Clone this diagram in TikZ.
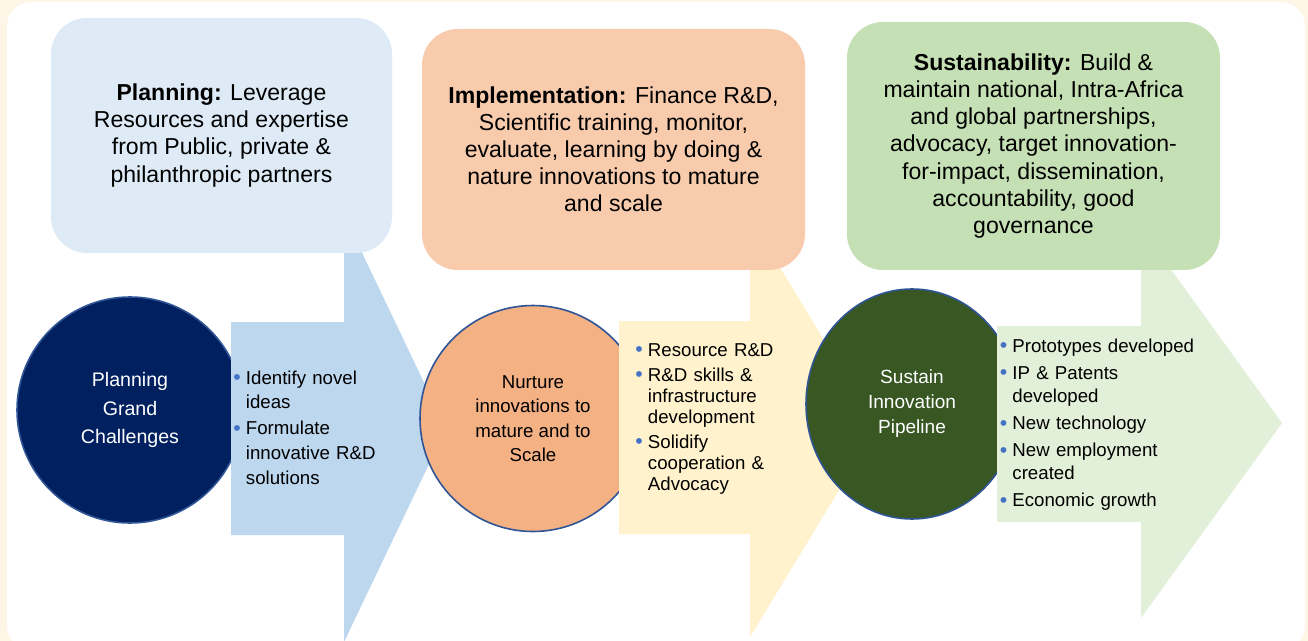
\documentclass[tikz,border=0pt]{standalone}
\usepackage{fontspec}
\setmainfont{Liberation Sans}
\usetikzlibrary{shapes.geometric}

\definecolor{cream}{HTML}{FDF6E7}
\definecolor{boxblue}{HTML}{DEEBF7}
\definecolor{boxpeach}{HTML}{F8CBAD}
\definecolor{boxgreen}{HTML}{C5E0B4}
\definecolor{arrblue}{HTML}{BDD7EE}
\definecolor{arryellow}{HTML}{FFF2CC}
\definecolor{arrgreen}{HTML}{E2F0D9}
\definecolor{navy}{HTML}{002060}
\definecolor{hubpeach}{HTML}{F4B183}
\definecolor{hubgreen}{HTML}{385723}
\definecolor{rimblue}{HTML}{2F5597}
\definecolor{dotblue}{HTML}{4472C4}

% bullet item with hanging indent
\newcommand{\bul}{\par\noindent\hangindent=9.5pt\hangafter=1\makebox[9.5pt][l]{\textcolor{dotblue}{\fontsize{16}{16}\selectfont\raisebox{-0.4pt}{•}}}}

\tikzset{
  stagebox/.style={rounded corners=27pt, inner sep=0pt, align=center, font=\fontsize{17.3}{20.3}\selectfont},
  hub/.style={ellipse, draw=rimblue, line width=1.2pt, inner sep=0pt, align=center},
  bullets/.style={anchor=north west, inner sep=0pt, text width=#1, align=left}
}

\begin{document}
\begin{tikzpicture}[x=0.75pt, y=-0.75pt]
        \useasboundingbox (0,0) rectangle (1308,641);
        % Background
        \fill[cream] (0,0) rectangle (1308,641);
        \fill[white, rounded corners=18pt] (7,2) rectangle (1305,650);

        % Hubs and arrows, left to right
        \node (c1) at (130,410) [hub, fill=navy, text=white, minimum width=169.5pt, minimum height=169.5pt, font=\fontsize{14.7}{21.4}\selectfont] {Planning\\Grand\\Challenges};
        \fill[arrblue] (231,322) -- (344,322) -- (344,215) -- (446,428.5) -- (344,642) -- (344,535) -- (231,535) -- cycle;
        \node (c2) at (533,418.5) [hub, fill=hubpeach, minimum width=169.5pt, minimum height=169.5pt, font=\fontsize{14}{18.4}\selectfont] {Nurture\\innovations to\\mature and to\\Scale};
        \fill[arryellow] (619,321) -- (750,321) -- (750,218) -- (877,427.5) -- (750,637) -- (750,534) -- (619,534) -- cycle;
        \node (c3) at (912,404) [hub, fill=hubgreen, text=white, minimum width=159pt, minimum height=172.5pt, font=\fontsize{14.3}{18.75}\selectfont] {Sustain\\Innovation\\Pipeline};
        \fill[arrgreen] (997,326) -- (1141,326) -- (1141,228) -- (1282,423) -- (1141,618) -- (1141,522) -- (997,522) -- cycle;

        % Bullet lists
        \node (l1) at (233,358) [bullets=150pt, font=\fontsize{14}{18.5}\selectfont] {\setlength{\parskip}{1pt}%
          \bul Identify novel\newline ideas
          \bul Formulate\newline innovative R\&D\newline solutions\par};
        \node (l2) at (635,331) [bullets=150pt, font=\fontsize{14}{15.75}\selectfont] {\setlength{\parskip}{3pt}%
          \bul Resource R\&D
          \bul R\&D skills \&\newline infrastructure\newline development
          \bul Solidify\newline cooperation \&\newline Advocacy\par};
        \node (l3) at (999.5,325) [bullets=170pt, font=\fontsize{14}{17.6}\selectfont] {\setlength{\parskip}{2.6pt}%
          \bul Prototypes developed
          \bul IP \& Patents\newline developed
          \bul New technology
          \bul New employment\newline created
          \bul Economic growth\par};

        % Stage boxes
        \node (b1) at (221.5,135.5) [stagebox, fill=boxblue, minimum width=255.75pt, minimum height=176.25pt] {\textbf{Planning:} Leverage\\Resources and expertise\\from Public, private \&\\philanthropic partners};
        \node (b2) at (613.5,149.5) [stagebox, fill=boxpeach, minimum width=287.25pt, minimum height=180.75pt] {\textbf{Implementation:} Finance R\&D,\\Scientific training, monitor,\\evaluate, learning by doing \&\\nature innovations to mature\\and scale};
        \node (b3) at (1033.5,146) [stagebox, fill=boxgreen, minimum width=279.75pt, minimum height=186pt] {\textbf{Sustainability:} Build \&\\maintain national, Intra-Africa\\and global partnerships,\\advocacy, target innovation-\\for-impact, dissemination,\\accountability, good\\governance};
\end{tikzpicture}
\end{document}
